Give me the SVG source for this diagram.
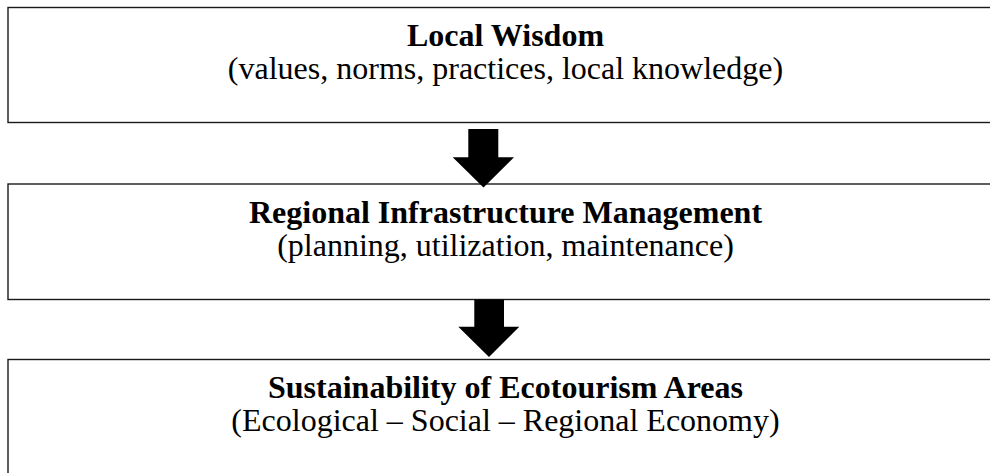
<svg xmlns="http://www.w3.org/2000/svg" width="990" height="473" viewBox="0 0 990 473">
<style>
.box{fill:#fff;stroke:#1a1a1a;stroke-width:1.4}
.t{font-family:"Liberation Serif","Times New Roman",serif;font-size:32px;fill:#000;text-anchor:middle}
.b{font-weight:bold}
.arr{fill:#000}
</style>
<rect width="990" height="473" fill="#fff"/>
<g id="node-local-wisdom">
<rect class="box" x="8" y="7.5" width="1000" height="115"/>
<text class="t b" x="505.5" y="46">Local Wisdom</text>
<text class="t" x="505.5" y="79">(values, norms, practices, local knowledge)</text>
</g>
<g id="node-infrastructure">
<rect class="box" x="8" y="184" width="1000" height="115.5"/>
<text class="t b" x="505.5" y="223">Regional Infrastructure Management</text>
<text class="t" x="505.5" y="256">(planning, utilization, maintenance)</text>
</g>
<g id="node-sustainability">
<rect class="box" x="8" y="359.5" width="1000" height="130"/>
<text class="t b" x="505.5" y="398">Sustainability of Ecotourism Areas</text>
<text class="t" x="505.5" y="431">(Ecological – Social – Regional Economy)</text>
</g>
<g id="connectors">
<polygon class="arr" points="468.3,129 498.3,129 498.3,157.3 514,157.3 483.5,187.5 452.7,157.3 468.3,157.3"/>
<polygon class="arr" points="474.3,299.5 504,299.5 504,326.7 519.3,326.7 489,357 458.3,326.7 474.3,326.7"/>
</g>
</svg>
